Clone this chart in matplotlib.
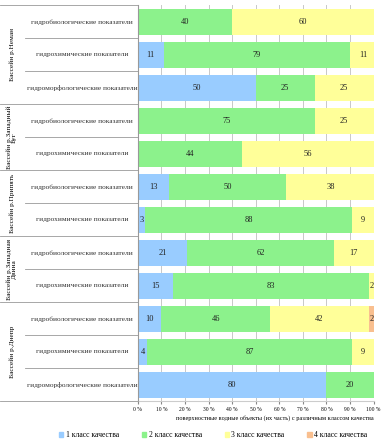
import numpy as np
import matplotlib.pyplot as plt
from matplotlib.transforms import blended_transform_factory
from matplotlib.lines import Line2D
from matplotlib.patches import Patch

plt.rcParams['font.family'] = ['Liberation Serif', 'DejaVu Serif']

categories = ['гидробиологические показатели', 'гидрохимические показатели',
              'гидроморфологические показатели',
              'гидробиологические показатели', 'гидрохимические показатели',
              'гидробиологические показатели', 'гидрохимические показатели',
              'гидробиологические показатели', 'гидрохимические показатели',
              'гидробиологические показатели', 'гидрохимические показатели',
              'гидроморфологические показатели']
groups = ['Бассейн р.Неман', 'Бассейн р.Западный\nБуг', 'Бассейн р.Припять',
          'Бассейн р.Западная\nДвина', 'Бассейн р.Днепр']
group_sizes = [3, 2, 2, 2, 3]

class1 = [0, 11, 50, 0, 0, 13, 3, 21, 15, 10, 4, 80]
class2 = [40, 79, 25, 75, 44, 50, 88, 62, 83, 46, 87, 20]
class3 = [60, 11, 25, 25, 56, 38, 9, 17, 2, 42, 9, 0]
class4 = [0, 0, 0, 0, 0, 0, 0, 0, 0, 2, 0, 0]

series = [class1, class2, class3, class4]
names = ['1 класс качества', '2 класс качества', '3 класс качества', '4 класс качества']
colors = ['#99ccff', '#8cf28c', '#ffff99', '#f9bf8f']
xticks = [0, 10, 20, 30, 40, 50, 60, 70, 80, 90, 100]

fig = plt.figure(figsize=(3.84, 4.45), dpi=100)
ax = fig.add_axes([0.359, 0.098, 0.614, 0.89])

y = np.arange(len(categories))
left = np.zeros(len(categories))
for vals, col in zip(series, colors):
    vals = np.array(vals, dtype=float)
    ax.barh(y, vals, left=left, height=0.77, color=col, zorder=2)
    for yi, (l, v) in enumerate(zip(left, vals)):
        if v > 0:
            ax.text(l + v / 2, yi, str(int(v)), ha='center', va='center',
                    fontsize=6, color='#222222', zorder=3)
    left += vals

ax.set_xlim(0, 100)
ax.set_ylim(len(categories) - 0.5, -0.5)
ax.set_xticks(xticks)
ax.set_xticklabels([f'{t} %' for t in xticks], fontsize=4)
ax.set_yticks([])
ax.tick_params(axis='x', length=2, pad=2, color='#888888')
ax.grid(axis='x', color='#c8c8c8', lw=0.7, zorder=0)
for s in ['top', 'right']:
    ax.spines[s].set_visible(False)
ax.spines['left'].set_color('#999999')
ax.spines['bottom'].set_color('#cccccc')
ax.spines['left'].set_linewidth(0.8)

ax.text(1.0, -0.035, 'поверхностные водные объекты (их часть) с различным классом качества',
        transform=ax.transAxes, ha='right', va='top', fontsize=4.5)

tr = blended_transform_factory(fig.transFigure, ax.transData)
for yi, cat in enumerate(categories):
    ax.text(82 / 384, yi, cat, transform=tr, ha='center', va='center', fontsize=5.3,
            color='#333333')

start = 0
line_kw = dict(transform=tr, color='#999999', lw=0.6, clip_on=False)
fig.add_artist(Line2D([0, 138 / 384], [-0.5, -0.5], **line_kw))
for g, n in zip(groups, group_sizes):
    mid = start + (n - 1) / 2
    ax.text(12 / 384, mid, g, transform=tr, rotation=90, ha='center', va='center',
            fontsize=5.2, linespacing=0.9)
    for k in range(1, n):
        fig.add_artist(Line2D([25 / 384, 138 / 384], [start + k - 0.5] * 2, **line_kw))
    start += n
    fig.add_artist(Line2D([0, 138 / 384], [start - 0.5] * 2, **line_kw))

handles = [Patch(color=c) for c in colors]
fig.legend(handles, names, loc='center', bbox_to_anchor=(0.555, 0.022), ncol=4,
           frameon=False, fontsize=5.5, handlelength=0.6, handleheight=0.6,
           handletextpad=0.3, columnspacing=3.0)

fig.savefig('out.png', dpi=100)
